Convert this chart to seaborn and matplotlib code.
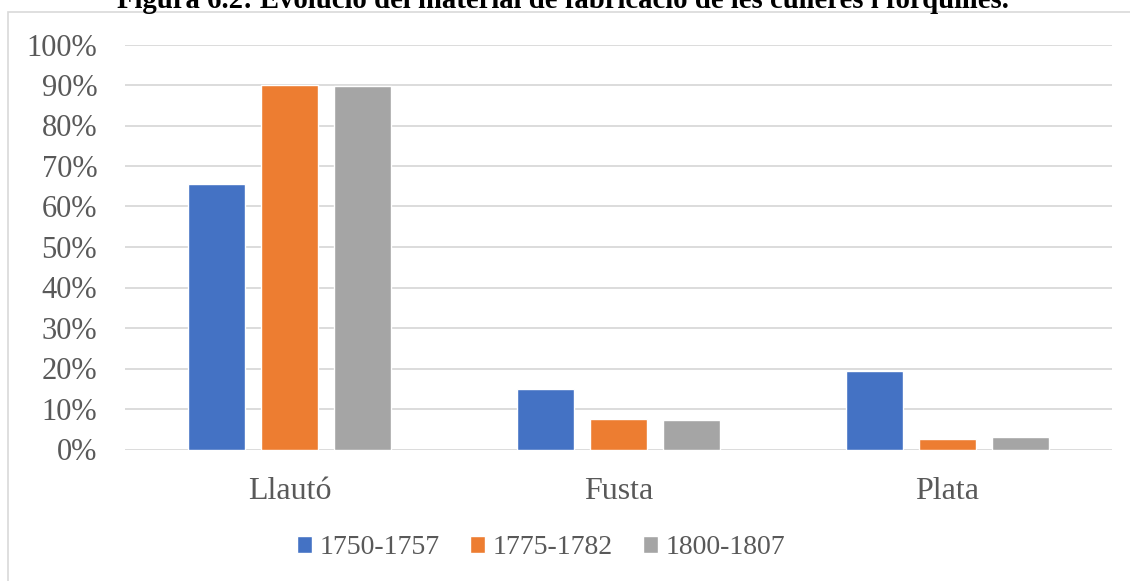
import matplotlib
matplotlib.use("Agg")
import matplotlib.pyplot as plt
from matplotlib.patches import Rectangle
from matplotlib.ticker import PercentFormatter, MultipleLocator
import seaborn as sns
import pandas as pd

# Share of each manufacturing material per period
materials = ["Llautó", "Fusta", "Plata"]
periods = ["1750-1757", "1775-1782", "1800-1807"]
share_1750 = [0.656, 0.149, 0.195]
share_1775 = [0.900, 0.075, 0.026]
share_1800 = [0.897, 0.073, 0.031]
colors = ["#4472C4", "#ED7D31", "#A5A5A5"]
title = "Figura 6.2: Evolució del material de fabricació de les culleres i forquilles."

df = pd.DataFrame({
    "material": materials * 3,
    "period": [p for p in periods for _ in materials],
    "share": share_1750 + share_1775 + share_1800,
})

sns.set_theme(style="white")
plt.rcParams["font.family"] = ["Liberation Serif", "DejaVu Serif"]

W, H, DPI = 1130, 581, 100
fig = plt.figure(figsize=(W / DPI, H / DPI), dpi=DPI)
ax = fig.add_axes([125 / W, 1 - 449.5 / H, (1112 - 125) / W, (449.5 - 44.5) / H])

sns.barplot(data=df, x="material", y="share", hue="period", hue_order=periods,
            order=materials, palette=colors, width=0.667, gap=0.22,
            saturation=1, ax=ax, errorbar=None)

ax.set_xlim(-0.5, 2.5)
ax.set_ylim(0, 1)
ax.yaxis.set_major_locator(MultipleLocator(0.1))
ax.yaxis.set_major_formatter(PercentFormatter(1.0, decimals=0))
ax.set_xlabel("")
ax.set_ylabel("")
for s in ax.spines.values():
    s.set_visible(False)
ax.grid(axis="y", color="#d9d9d9", linewidth=1.3)
ax.set_axisbelow(True)
ax.tick_params(axis="y", length=0, pad=20, labelsize=22, labelcolor="#595959")
ax.tick_params(axis="x", length=0, pad=20, labelsize=23, labelcolor="#595959")

handles, labels = ax.get_legend_handles_labels()
ax.get_legend().remove()
fig.legend(handles, labels, loc="center", bbox_to_anchor=(541 / W, 1 - 548 / H),
           ncol=3, frameon=False, fontsize=20, labelcolor="#595959",
           handlelength=0.55, handleheight=0.55, handletextpad=0.25,
           columnspacing=1.1)

# Chart frame
fig.add_artist(Rectangle((8 / W, -0.1), 1.2, 1 - 12.5 / H + 0.1,
                         transform=fig.transFigure, fill=False,
                         edgecolor="#d9d9d9", linewidth=1.2))

fig.text(563 / W, 1 - 8 / H, title, ha="center", va="baseline",
         fontsize=20.7, fontweight="bold", color="black")

fig.savefig("out.png", dpi=DPI)
